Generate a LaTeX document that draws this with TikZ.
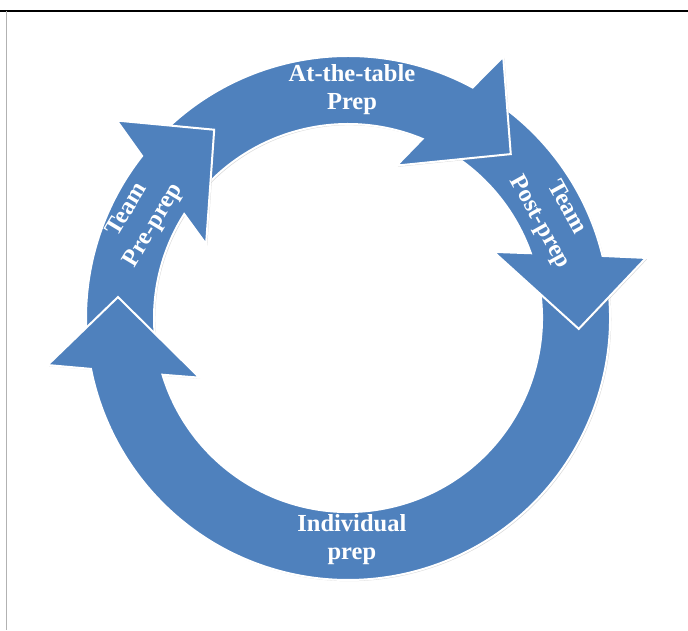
\documentclass[tikz,border=0pt]{standalone}
\usepackage{fontspec}
\setmainfont{Liberation Serif}
\usepackage{tikz}
\usetikzlibrary{shadows}

\definecolor{accentblue}{RGB}{79,129,189}

% one curved arrow of the cycle: tail angle, tip angle
\newcommand{\cyclearrow}[3][]{%
  \fill[segment,#1] (#2:262pt) arc[start angle=#2, end angle={#3+16.4}, radius=262pt]
    -- ({#3+14.1}:304pt) -- (#3:231pt) -- ({#3+27.1}:160pt)
    -- ({#3+22.2}:194pt) arc[start angle={#3+22.2}, end angle=#2, radius=194pt] -- cycle;}

\begin{document}
\begin{tikzpicture}[
    x=1pt, y=1pt,
    segment/.style={
        fill=accentblue,
        draw=white,
        line width=2pt,
        line join=miter
    },
    shadowed/.style={drop shadow={opacity=0.3, shadow xshift=1.2pt, shadow yshift=-1.2pt}},
    steplabel/.style={
        text=white,
        align=center,
        font=\bfseries\fontsize{24.5}{28}\selectfont
    },
    sidelabel/.style={
        steplabel,
        font=\bfseries\fontsize{24.5}{30.5}\selectfont
    }
]
\useasboundingbox (0,0) rectangle (688,630);

% frame
\coordinate (tl) at (0,619);
\coordinate (tr) at (688,619);
\coordinate (lt) at (6,619);
\coordinate (lb) at (6,0);
\draw[line width=1.2pt] (tl) -- (tr);
\draw[gray!60, line width=0.8pt] (lt) -- (lb);

\begin{scope}[shift={(348,312)}]
\cyclearrow[shadowed]{15.3}{-185.2}  % individual prep
\cyclearrow[shadowed]{63.2}{-2.7}    % team post-prep
\cyclearrow[shadowed]{143.4}{45.2}   % at-the-table prep
\cyclearrow[shadowed]{192.8}{125.4}  % team pre-prep

% head of the first arrow back on top
\begin{scope}
\clip (0,0) -- (168:340pt) arc[start angle=168, end angle=205, radius=340pt] -- cycle;
\cyclearrow{15.3}{-185.2}
\end{scope}

\node[steplabel] (table) at (89:228pt) {At-the-table\\Prep};
\node[sidelabel, rotate=-61] (post) at (26.7:229pt) {Team\\Post-prep};
\node[steplabel] (indiv) at (271:222pt) {Individual\\prep};
\node[sidelabel, rotate=59] (pre) at (154.2:230pt) {Team\\Pre-prep};
\end{scope}

\end{tikzpicture}
\end{document}
